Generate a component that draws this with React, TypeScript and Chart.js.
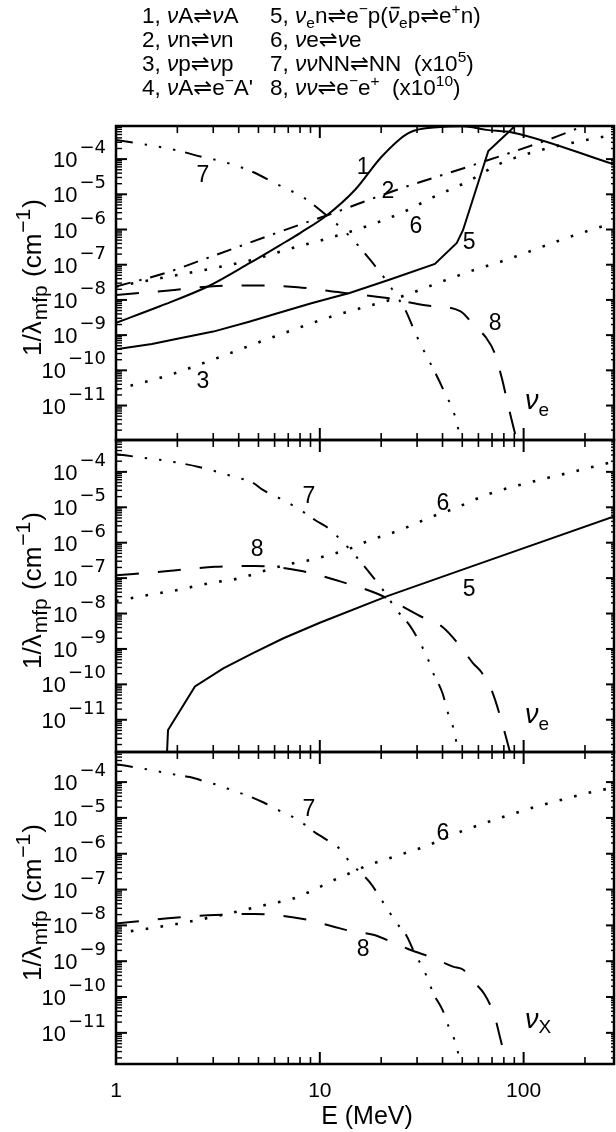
import React, { useEffect, useRef } from "react";
import { Chart, registerables } from "chart.js";

Chart.register(...registerables);

// ---------------- axes ----------------
const E_MIN = 1;
const E_MAX = 277.6;
const X_TICK_VALUES = [1, 10, 100];
const X_TICK_LABELS = ["1", "10", "100"];
const Y_LABEL_EXP = [-4, -5, -6, -7, -8, -9, -10, -11];
const X_TITLE = "E (MeV)";

// ---------------- panel 1 (nu_e, all processes) ----------------
const P1_Y_MIN = 1.05e-12;
const P1_Y_MAX = 8.71e-4;

const P1_C1_E = [1, 1.64, 2.89, 4.54, 6.36, 8.0, 10.8, 14.9, 20.1, 27.2, 38.9, 50, 65.7, 88.8, 277.6];
const P1_C1_V = [2.24e-9, 6.61e-9, 2.57e-8, 1.12e-7, 3.55e-7, 7.94e-7, 2.51e-6, 1.35e-5, 1.17e-4, 5.5e-4, 8.13e-4, 8.51e-4, 6.76e-4, 5.62e-4, 7.08e-5];

const P1_C5_E = [1, 1.5, 2, 3, 4.5, 6.2, 9, 11.2, 14, 22.1, 36.7, 47, 50.4, 67.1, 86, 90.5];
const P1_C5_V = [3.98e-10, 5.62e-10, 7.94e-10, 1.26e-9, 2.4e-9, 4.17e-9, 7.94e-9, 1.12e-8, 1.58e-8, 3.8e-8, 1.05e-7, 4.17e-7, 9.55e-7, 1.7e-4, 6.46e-4, 8.71e-4];

const P1_C2_E = [1, 1.78, 2.77, 8.0, 10.8, 24.8, 52.6, 134.7, 197];
const P1_C2_V = [2.4e-8, 6.03e-8, 1.51e-7, 1.38e-6, 2.51e-6, 1.45e-5, 5.89e-5, 3.72e-4, 8.71e-4];

const P1_C6_E = [1, 1.66, 2.77, 4.6, 7.41, 10.4, 14.3, 19.8, 26.7, 36, 52.6, 76.6, 111.5, 162.7, 277.6];
const P1_C6_V = [2.4e-8, 4.17e-8, 7.24e-8, 1.35e-7, 3.02e-7, 5.13e-7, 8.91e-7, 1.7e-6, 3.47e-6, 8.32e-6, 2.24e-5, 7.41e-5, 1.58e-4, 2.69e-4, 4.9e-4];

const P1_C3_E = [1, 1.77, 3.0, 5.5, 11.6, 25.6, 38.8, 56.5, 76.6, 162.7, 277.6];
const P1_C3_V = [2.88e-11, 6.92e-11, 2.04e-10, 7.59e-10, 3.47e-9, 1.29e-8, 3.16e-8, 6.92e-8, 1.2e-7, 5.75e-7, 1.58e-6];

const P1_C7_E = [1, 1.41, 1.98, 2.78, 3.24, 4.54, 6.14, 8.31, 9.65, 14.0, 17.6, 21.3, 23.8, 26.2, 29.9, 40.3, 47, 48.8];
const P1_C7_V = [3.47e-4, 2.57e-4, 1.78e-4, 1.07e-4, 8.91e-5, 4.68e-5, 1.95e-5, 8.13e-6, 4.27e-6, 6.46e-7, 1.41e-7, 3.39e-8, 1.29e-8, 5.37e-9, 9.33e-10, 2.88e-11, 3.31e-12, 1.05e-12];

const P1_C8_E = [1, 1.82, 2.99, 4.8, 7.8, 12.7, 20.9, 33.6, 48.8, 57.6, 65, 72, 78, 84, 89, 92.5];
const P1_C8_V = [1.38e-8, 1.86e-8, 2.45e-8, 2.57e-8, 2.29e-8, 1.62e-8, 1.15e-8, 6.92e-9, 4.79e-9, 1.78e-9, 8.91e-10, 3.16e-10, 6.31e-11, 1.0e-11, 2.51e-12, 1.05e-12];

// ---------------- panel 2 (nu_e) ----------------
const P2_Y_MIN = 1.23e-12;
const P2_Y_MAX = 7.94e-4;

const P2_C7_E = [1, 1.36, 1.64, 2.55, 3.75, 4.7, 5.26, 6.36, 8.0, 9.47, 11.2, 12.8, 14.1, 15.8, 17.6, 20.4, 23.8, 27.7, 30.5, 33.6, 36, 40, 42.5, 46, 47.5];
const P2_C7_V = [3.16e-4, 2.51e-4, 2.19e-4, 1.38e-4, 7.41e-5, 4.9e-5, 3.09e-5, 1.78e-5, 8.51e-6, 4.37e-6, 2.4e-6, 1.12e-6, 6.31e-7, 2.95e-7, 1.38e-7, 4.68e-8, 1.26e-8, 4.47e-9, 1.78e-9, 5.89e-10, 2.09e-10, 5.62e-11, 1.58e-11, 3.98e-12, 1.23e-12];

const P2_C8_E = [1, 1.8, 3.06, 4.8, 8.0, 12.7, 19.3, 31, 40, 50.5, 56.4, 62, 70, 78.5, 85.7];
const P2_C8_V = [1.2e-7, 1.58e-7, 2.09e-7, 2.19e-7, 1.62e-7, 7.94e-8, 3.55e-8, 8.51e-9, 4.17e-9, 9.33e-10, 3.98e-10, 2.24e-10, 6.31e-11, 7.94e-12, 1.23e-12];

const P2_C6_E = [1, 1.36, 1.98, 2.89, 4.06, 5.5, 7.4, 8.94, 14.1, 16.9, 24.8, 36, 45, 65.7, 111.5, 163, 277.6];
const P2_C6_V = [2.24e-8, 3.16e-8, 4.57e-8, 7.24e-8, 1.0e-7, 1.7e-7, 2.63e-7, 3.24e-7, 6.92e-7, 1.07e-6, 2.29e-6, 5.62e-6, 8.91e-6, 2.24e-5, 5.37e-5, 9.12e-5, 1.95e-4];

const P2_C5_E = [1.78, 1.8, 2.44, 3.36, 4.7, 6.63, 10, 21.6, 52.6, 277.6];
const P2_C5_V = [1.23e-12, 5.13e-12, 8.71e-11, 2.82e-10, 7.59e-10, 2.0e-9, 5.5e-9, 3.16e-8, 1.91e-7, 5.5e-6];

// ---------------- panel 3 (nu_x) ----------------
const P3_Y_MIN = 1.35e-12;
const P3_Y_MAX = 6.92e-4;

const P3_C7_E = [1, 1.41, 1.9, 2.3, 2.8, 3.24, 3.75, 4.44, 5.3, 6.4, 7.4, 8.4, 9.5, 10.4, 12.6, 14.1, 15.8, 17.6, 22, 23.8, 26.7, 28.7, 33.5, 36, 40.3, 42, 47, 48.8];
const P3_C7_V = [3.16e-4, 2.29e-4, 1.66e-4, 1.38e-4, 1.0e-4, 7.94e-5, 5.75e-5, 4.17e-5, 2.69e-5, 1.55e-5, 1.05e-5, 6.61e-6, 3.89e-6, 2.82e-6, 1.32e-6, 5.62e-7, 3.02e-7, 1.58e-7, 2.29e-8, 1.17e-8, 5.01e-9, 2.09e-9, 3.72e-10, 1.29e-10, 3.98e-11, 2.0e-11, 3.98e-12, 1.35e-12];

const P3_C8_E = [1, 1.8, 2.83, 4.8, 8.6, 11.6, 14.5, 18.3, 22.9, 27.7, 36, 45, 50.6, 55.6, 64.5, 72.2, 76.4, 82.5];
const P3_C8_V = [1.12e-8, 1.58e-8, 1.91e-8, 2.09e-8, 1.45e-8, 9.33e-9, 6.76e-9, 5.5e-9, 3.31e-9, 2.09e-9, 1.23e-9, 7.08e-10, 5.75e-10, 3.02e-10, 1.15e-10, 2.82e-11, 7.94e-12, 1.35e-12];

const P3_C6_E = [1, 1.36, 1.9, 2.58, 3.75, 5.5, 7.4, 9, 12.1, 14.6, 16.9, 23.8, 33.4, 43.5, 58.9, 82.6, 111.5, 157, 211, 277.6];
const P3_C6_V = [6.03e-9, 7.76e-9, 1.05e-8, 1.45e-8, 2.29e-8, 3.8e-8, 5.62e-8, 8.91e-8, 2.0e-7, 3.16e-7, 4.57e-7, 8.71e-7, 1.66e-6, 3.16e-6, 6.03e-6, 1.15e-5, 1.95e-5, 3.31e-5, 5.13e-5, 7.08e-5];

// ---------------- curve labels (data coordinates) ----------------
const P1_LABELS = [
  { t: "7", E: 2.67, V: 3.8e-5 },
  { t: "1", E: 16.3, V: 6.5e-5 },
  { t: "2", E: 21.6, V: 1.35e-5 },
  { t: "6", E: 29.6, V: 1.38e-6 },
  { t: "5", E: 54, V: 4.9e-7 },
  { t: "8", E: 72.4, V: 2.45e-9 },
  { t: "3", E: 2.67, V: 5.6e-11 },
];
const P2_LABELS = [
  { t: "7", E: 8.85, V: 2.24e-5 },
  { t: "6", E: 40.2, V: 1.41e-5 },
  { t: "5", E: 54, V: 5.6e-8 },
  { t: "8", E: 4.92, V: 7.1e-7 },
];
const P3_LABELS = [
  { t: "7", E: 8.85, V: 2.0e-5 },
  { t: "6", E: 40.2, V: 4.3e-6 },
  { t: "8", E: 16.3, V: 2.4e-9 },
];
const P1_NU = { sub: "e", E: 101.6, V: 7.9e-12 };
const P2_NU = { sub: "e", E: 101.6, V: 8.1e-12 };
const P3_NU = { sub: "X", E: 101.6, V: 1.38e-11 };

// ---------------- legend text ----------------
const NU = { t: "ν", k: "i" };
const LEGEND_LINES: any[][] = [
  [
    ["1, ", NU, "A⇌", NU, "A"],
    ["5, ", NU, { t: "e", k: "sub" }, "n⇌e", { t: "−", k: "sup" }, "p(", { t: "ν", k: "bar" }, { t: "e", k: "sub" }, "p⇌e", { t: "+", k: "sup" }, "n)"],
  ],
  [
    ["2, ", NU, "n⇌", NU, "n"],
    ["6, ", NU, "e⇌", NU, "e"],
  ],
  [
    ["3, ", NU, "p⇌", NU, "p"],
    ["7, ", NU, NU, "NN⇌NN  (x10", { t: "5", k: "sup" }, ")"],
  ],
  [
    ["4, ", NU, "A⇌e", { t: "−", k: "sup" }, "A'"],
    ["8, ", NU, NU, "⇌e", { t: "−", k: "sup" }, "e", { t: "+", k: "sup" }, "  (x10", { t: "10", k: "sup" }, ")"],
  ],
];
const Y_TITLE_RUNS = ["1/λ", { t: "mfp", k: "sub" }, " (cm", { t: "−1", k: "sup" }, ")"];

// ---------------- styles ----------------
const FONT = "'Liberation Sans', 'DejaVu Sans', Arial, sans-serif";
const SUP_FONT = "'DejaVu Sans', 'Liberation Sans', sans-serif";
const DASH: Record<string, number[]> = {
  solid: [],
  dashDot: [15, 9, 2.4, 9],
  dotted: [2.6, 12.4],
  dash3dot: [17, 12, 2.4, 12, 2.4, 12, 2.4, 10],
  longDash: [23, 19],
};

function ds(E: number[], V: number[], style: string, smooth?: boolean) {
  const mono = smooth !== undefined ? smooth : style !== "solid";
  return {
    data: E.map((e, i) => ({ x: e, y: V[i] })),
    borderColor: "#000",
    backgroundColor: "#000",
    borderWidth: style === "dotted" ? 2.6 : 2,
    borderDash: DASH[style],
    borderCapStyle: "butt",
    pointRadius: 0,
    fill: false,
    tension: 0,
    cubicInterpolationMode: mono ? "monotone" : "default",
  };
}

function drawRuns(ctx: CanvasRenderingContext2D, x: number, y: number, runs: any[], o: any, draw = true) {
  let cx = x;
  for (const r of runs) {
    const t = typeof r === "string" ? r : r.t;
    const k = typeof r === "string" ? "n" : r.k || "n";
    const small = k === "sub" || k === "sup";
    const size = small ? o.small : o.base;
    const italic = k === "i" || k === "bar" ? "italic " : "";
    ctx.font = `${italic}${size}px ${FONT}`;
    const w = ctx.measureText(t).width;
    const dy = k === "sub" ? o.subDy : k === "sup" ? o.supDy : 0;
    if (draw) {
      ctx.fillText(t, cx, y + dy);
      if (k === "bar") ctx.fillRect(cx + w * 0.25, y - size * 0.72, w * 0.8, 1.6);
    }
    cx += w + (o.gap || 0);
  }
  return cx - x;
}

function line(ctx: CanvasRenderingContext2D, x1: number, y1: number, x2: number, y2: number) {
  ctx.beginPath();
  ctx.moveTo(x1, y1);
  ctx.lineTo(x2, y2);
  ctx.stroke();
}

function decorPlugin(p: any) {
  return {
    id: "decor" + p.id,
    afterDraw(chart: any) {
      const { ctx, chartArea: a, scales } = chart;
      const xs = scales.x;
      const ys = scales.y;
      ctx.save();
      ctx.fillStyle = "#000";
      ctx.strokeStyle = "#000";
      ctx.setLineDash([]);
      ctx.lineCap = "butt";
      ctx.textBaseline = "alphabetic";
      ctx.textAlign = "left";

      // x ticks, top and bottom
      for (let d = 0; d <= 2; d++) {
        for (let k = 1; k <= 9; k++) {
          const v = k * Math.pow(10, d);
          if (v > E_MAX) continue;
          const px = xs.getPixelForValue(v);
          const len = k === 1 ? 12 : 7;
          ctx.lineWidth = k === 1 ? 2 : 1.6;
          line(ctx, px, a.top, px, a.top + len);
          line(ctx, px, a.bottom, px, a.bottom - len);
        }
      }
      // y ticks, left and right
      for (let n = -12; n <= -3; n++) {
        for (let k = 1; k <= 9; k++) {
          const v = k * Math.pow(10, n);
          if (v < p.yMin || v > p.yMax) continue;
          const py = ys.getPixelForValue(v);
          ctx.lineWidth = k === 1 ? 2 : 1.4;
          line(ctx, a.left, py, a.left + (k === 1 ? 11 : 6), py);
          line(ctx, a.right, py, a.right - (k === 1 ? 8 : 3), py);
        }
      }
      // frame
      ctx.lineWidth = 2.5;
      ctx.strokeRect(a.left, a.top, a.right - a.left, a.bottom - a.top);

      // y tick labels
      for (const n of Y_LABEL_EXP) {
        const py = ys.getPixelForValue(Math.pow(10, n));
        const sup = "−" + String(-n);
        ctx.font = `18px ${SUP_FONT}`;
        const w = ctx.measureText(sup).width;
        const x0 = 106 - w;
        ctx.textAlign = "left";
        ctx.fillText(sup, x0, py - 6);
        ctx.font = `22px ${FONT}`;
        ctx.textAlign = "right";
        ctx.fillText("10", x0 - 2, py + 8);
      }
      ctx.textAlign = "left";

      // y title (rotated)
      {
        const cy = (a.top + a.bottom) / 2 - 6;
        ctx.save();
        ctx.translate(41, cy);
        ctx.rotate(-Math.PI / 2);
        const o = { base: 26, small: 21, subDy: 6, supDy: -11, gap: 1 };
        const W = drawRuns(ctx, 0, 0, Y_TITLE_RUNS, o, false);
        drawRuns(ctx, -W / 2, 0, Y_TITLE_RUNS, o, true);
        ctx.restore();
      }

      // curve labels
      ctx.font = `23px ${FONT}`;
      ctx.textAlign = "center";
      for (const l of p.labels) {
        ctx.fillText(l.t, xs.getPixelForValue(l.E), ys.getPixelForValue(l.V) + 8.5);
      }
      ctx.textAlign = "left";
      // neutrino flavour label
      {
        const nx = xs.getPixelForValue(p.nu.E);
        const ny = ys.getPixelForValue(p.nu.V);
        drawRuns(ctx, nx, ny, [{ t: "ν", k: "i" }, { t: p.nu.sub, k: "sub" }], { base: 27, small: 19, subDy: p.nu.sub === "X" ? 5 : 7 });
      }

      // legend on top panel
      if (p.legend) {
        const o = { base: 22.5, small: 15.5, subDy: 5, supDy: -9 };
        const cols = [142, 270];
        LEGEND_LINES.forEach((ln, i) => {
          const y = 23 + i * 24;
          ln.forEach((runs: any[], c: number) => drawRuns(ctx, cols[c], y, runs, o, true));
        });
      }

      // x tick labels + title on bottom panel
      if (p.xLabels) {
        ctx.font = `21px ${FONT}`;
        ctx.textAlign = "center";
        X_TICK_VALUES.forEach((v, i) => {
          ctx.fillText(X_TICK_LABELS[i], xs.getPixelForValue(v), a.bottom + 33);
        });
        ctx.font = `25px ${FONT}`;
        ctx.fillText(X_TITLE, (a.left + a.right) / 2 + 2, a.bottom + 60);
      }
      ctx.restore();
    },
  };
}

const PANELS = [
  {
    id: 1, top: 0, height: 450, padTop: 126, padBottom: 10,
    yMin: P1_Y_MIN, yMax: P1_Y_MAX, labels: P1_LABELS, nu: P1_NU, legend: true, xLabels: false,
    sets: [
      [P1_C1_E, P1_C1_V, "solid", true],
      [P1_C5_E, P1_C5_V, "solid"],
      [P1_C2_E, P1_C2_V, "dashDot"],
      [P1_C6_E, P1_C6_V, "dotted"],
      [P1_C3_E, P1_C3_V, "dotted"],
      [P1_C7_E, P1_C7_V, "dash3dot"],
      [P1_C8_E, P1_C8_V, "longDash"],
    ],
  },
  {
    id: 2, top: 430, height: 332, padTop: 10, padBottom: 10,
    yMin: P2_Y_MIN, yMax: P2_Y_MAX, labels: P2_LABELS, nu: P2_NU, legend: false, xLabels: false,
    sets: [
      [P2_C5_E, P2_C5_V, "solid"],
      [P2_C6_E, P2_C6_V, "dotted"],
      [P2_C7_E, P2_C7_V, "dash3dot"],
      [P2_C8_E, P2_C8_V, "longDash"],
    ],
  },
  {
    id: 3, top: 742, height: 390, padTop: 10, padBottom: 68,
    yMin: P3_Y_MIN, yMax: P3_Y_MAX, labels: P3_LABELS, nu: P3_NU, legend: false, xLabels: true,
    sets: [
      [P3_C6_E, P3_C6_V, "dotted"],
      [P3_C7_E, P3_C7_V, "dash3dot"],
      [P3_C8_E, P3_C8_V, "longDash"],
    ],
  },
];

function Panel({ p }: { p: any }) {
  const ref = useRef<HTMLCanvasElement>(null);
  useEffect(() => {
    const chart = new Chart(ref.current as HTMLCanvasElement, {
      type: "line",
      data: { datasets: p.sets.map((s: any) => ds(s[0], s[1], s[2], s[3])) as any },
      options: {
        responsive: false,
        animation: false,
        events: [],
        devicePixelRatio: 1,
        layout: { padding: { left: 116, right: 2, top: p.padTop, bottom: p.padBottom } },
        scales: {
          x: { type: "logarithmic", min: E_MIN, max: E_MAX, display: false },
          y: { type: "logarithmic", min: p.yMin, max: p.yMax, display: false },
        },
        plugins: { legend: { display: false }, tooltip: { enabled: false } },
      } as any,
      plugins: [decorPlugin(p)],
    });
    return () => chart.destroy();
  }, []);
  return (
    <canvas
      ref={ref}
      width={616}
      height={p.height}
      style={{ position: "absolute", left: 0, top: p.top, width: 616, height: p.height, display: "block" }}
    />
  );
}

export default function App() {
  return (
    <div style={{ position: "absolute", left: 0, top: 0, width: 616, height: 1132, background: "#fff", overflow: "hidden" }}>
      {PANELS.map((p) => (
        <Panel key={p.id} p={p} />
      ))}
    </div>
  );
}
